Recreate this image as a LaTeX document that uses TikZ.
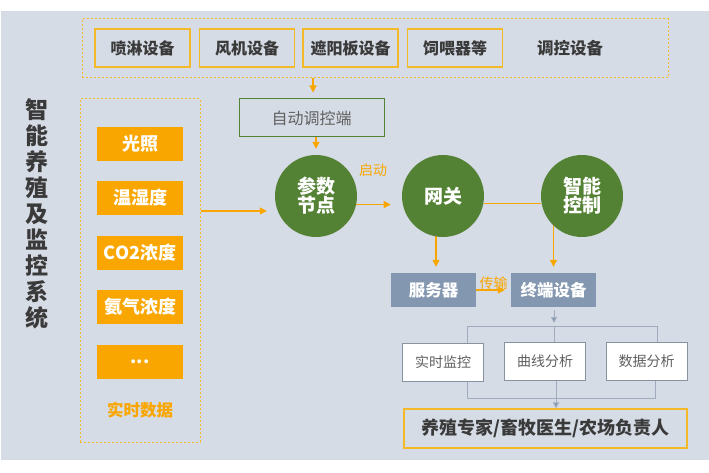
\documentclass[tikz,border=0pt]{standalone}
\usepackage{fontspec}
\setmainfont{Noto Sans CJK SC}
\usetikzlibrary{arrows.meta}
\definecolor{bgc}{RGB}{214,220,229}
\definecolor{orgf}{RGB}{250,166,0}
\definecolor{orgl}{RGB}{243,185,40}
\definecolor{grn}{RGB}{84,130,53}
\definecolor{slate}{RGB}{132,151,176}
\definecolor{dk}{RGB}{58,58,58}
\definecolor{gtx}{RGB}{96,96,96}
\definecolor{gline}{RGB}{160,172,190}
\pgfdeclarelayer{back}
\pgfdeclarelayer{bgl}
\pgfsetlayers{back,bgl,main}
\newcommand{\fs}[1]{\fontsize{#1}{#1}\selectfont}
\tikzset{
  topbox/.style={draw=orgl, line width=1.3pt, minimum width=95pt, minimum height=38pt, inner sep=0pt, font=\bfseries\fs{16}, text=dk},
  obox/.style={fill=orgf, minimum width=86pt, minimum height=34pt, inner sep=0pt, font=\bfseries\fs{18}, text=white},
  gcirc/.style={circle, fill=grn, minimum size=82pt, inner sep=0pt, font=\bfseries\fs{19}, text=white, align=center},
  sbox/.style={fill=slate, minimum width=85pt, minimum height=34pt, inner sep=0pt, font=\bfseries\fs{16.5}, text=white},
  wbox/.style={fill=white, draw=gline!85!black, line width=1pt, minimum width=81pt, minimum height=38pt, inner sep=0pt, font=\fs{14}, text=gtx},
  dbox/.style={draw=orgl, line width=1pt, dash pattern=on 2pt off 2pt},
  oarr/.style={draw=orgf, line width=1.2pt, -{Triangle[length=7pt,width=7pt]}},
  oline/.style={draw=orgf, line width=1.2pt},
  garr/.style={draw=gline, line width=1pt, -{Triangle[length=6pt,width=6pt,fill=slate]}},
  gl/.style={draw=gline, line width=1pt},
  olab/.style={font=\fs{14}, text=orgf, inner sep=1pt},
}
\begin{document}
\begin{tikzpicture}[x=1pt,y=-1pt]
\useasboundingbox (0,0) rectangle (709,473);
\begin{pgfonlayer}{back}
\fill[white] (0,0) rectangle (709,473);
\fill[bgc] (1,11) rectangle (709,460);
\end{pgfonlayer}
% dashed groups
\node[dbox, minimum width=586pt, minimum height=59pt, inner sep=0pt] (top) at (375,48.5) {};
\node[dbox, minimum width=120pt, minimum height=343pt, inner sep=0pt] (left) at (140,270.5) {};
% top devices
\node[topbox] (d1) at (142.5,48) {喷淋设备};
\node[topbox] (d2) at (247,48) {风机设备};
\node[topbox] (d3) at (350.5,48) {遮阳板设备};
\node[topbox] (d4) at (455,48) {饲喂器等};
\node[font=\bfseries\fs{16.5}, text=dk] (d5) at (570,48) {调控设备};
% vertical title
\node[font=\bfseries\fs{23}, text=dk, align=center, inner sep=0pt] (title) at (37,214)
  {智\\[3pt]能\\[3pt]养\\[3pt]殖\\[3pt]及\\[3pt]监\\[3pt]控\\[3pt]系\\[3pt]统};
% sensors
\node[obox] (s1) at (140,144) {光照};
\node[obox] (s2) at (140,198) {温湿度};
\node[obox] (s3) at (140,252.5) {CO2浓度};
\node[obox] (s4) at (140,307) {氨气浓度};
\node[obox] (s5) at (140,361.5) {...};
\node[font=\bfseries\fs{16.5}, text=orgf] (rt) at (140,410) {实时数据};
% auto control
\node[draw=grn, line width=1pt, minimum width=145pt, minimum height=38pt, inner sep=0pt, font=\fs{16}, text=gtx] (auto) at (311.5,118) {自动调控端};
% circles
\node[gcirc] (p) at (316,196) {参数\\节点};
\node[gcirc] (g) at (443,196) {网关};
\node[gcirc] (c) at (582,196) {智能\\控制};
% server, terminal
\node[sbox] (srv) at (433.5,290) {服务器};
\node[sbox] (term) at (553.5,290) {终端设备};
% analysis
\node[wbox] (m1) at (443,362.5) {实时监控};
\node[wbox] (m2) at (545,361) {曲线分析};
\node[wbox] (m3) at (646.5,361) {数据分析};
% bottom
\node[draw=orgl, line width=1.3pt, minimum width=283pt, minimum height=39pt, inner sep=0pt, font=\bfseries\fs{18}, text=dk] (bot) at (545.5,428.5) {养殖专家/畜牧医生/农场负责人};
% labels
\node[olab] (qd) at (373,170) {启动};
% connectors
\draw[oarr, shorten >=6pt] (top.south -| 313,0) -- (auto.north -| 313,0);
\draw[oarr, shorten >=6pt] (auto.south -| p.north) -- (p.north);
\path (p.center) ++(0,15) coordinate (pa);
\draw[oarr, shorten >=8pt] (left.east |- pa) -- (p.west |- pa);
\draw[oarr, shorten >=12pt] (p.-12) -- (g.192);
\draw[oline] (g.-10) -- (c.190);
\begin{pgfonlayer}{bgl}
\draw[oarr, shorten >=6pt] (g.center -| 436,0) -- (srv.north -| 436,0);
\draw[oarr, shorten >=6pt] (c.center -| term.north) -- (term.north);
\end{pgfonlayer}
\draw[oarr, shorten >=6pt] (srv.east) -- (term.west) node[midway, above=-1pt, olab] (cs) {传输};
% bus to analysis boxes
\coordinate (b1) at (467,326);
\coordinate (b2) at (554,326);
\coordinate (b3) at (657,326);
\draw[garr, shorten <=3pt, shorten >=3pt] (term.south -| b2) -- (b2);
\draw[gl] (b1) -- (b3);
\draw[gl] (b1) -- (b1 |- m1.north);
\draw[gl] (b2) -- (b2 |- m2.north);
\draw[gl] (b3) -- (b3 |- m3.north);
\coordinate (l1) at (467,398);
\coordinate (l2) at (556,398);
\coordinate (l3) at (655,398);
\draw[gl] (l1 |- m1.south) -- (l1) -- (l3) -- (l3 |- m3.south);
\draw[gl] (l2 |- m2.south) -- (l2);
\draw[garr] (l2) -- (l2 |- bot.north);
\end{tikzpicture}
\end{document}
